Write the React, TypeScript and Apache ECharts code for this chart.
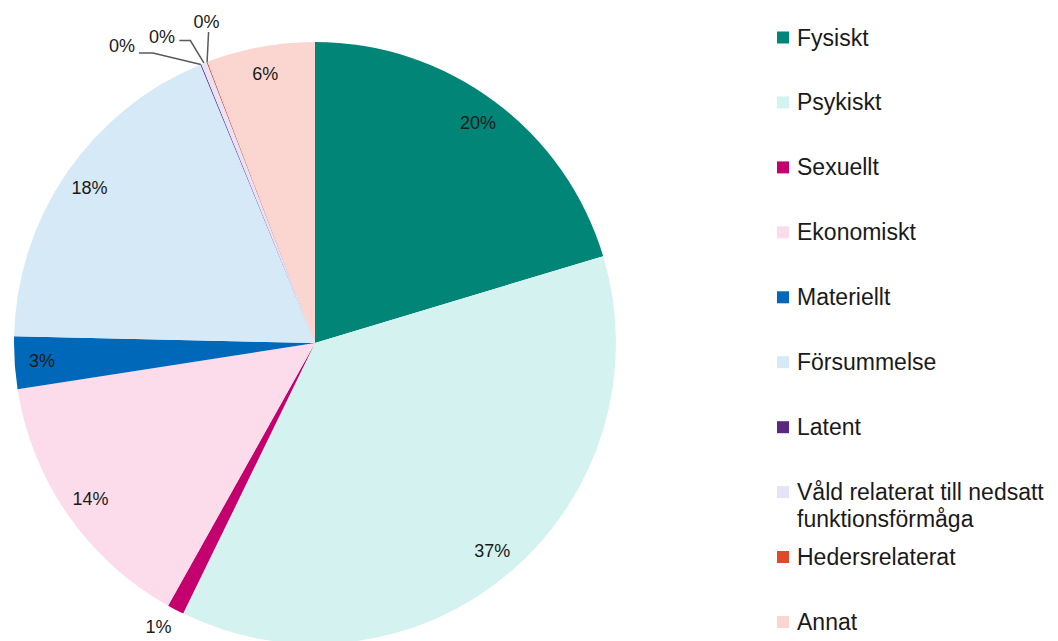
import React, { useEffect, useRef } from "react";
import * as echarts from "echarts";

const categories: string[] = [
  "Fysiskt",
  "Psykiskt",
  "Sexuellt",
  "Ekonomiskt",
  "Materiellt",
  "Försummelse",
  "Latent",
  "Våld relaterat till nedsatt funktionsförmåga",
  "Hedersrelaterat",
  "Annat",
];

const shares: number[] = [20.3, 36.8, 0.9, 14.4, 2.8, 18.4, 0.05, 0.3, 0.05, 5.8];

const colors: string[] = [
  "#008577",
  "#D4F3F0",
  "#C4006E",
  "#FCDCEB",
  "#0068B8",
  "#D5E9F7",
  "#5A2783",
  "#E6E3F7",
  "#E0492A",
  "#FBD6D0",
];

// label placement (offsets from the slice's outer edge point) for the small slices
const outsideLabelOffsets: Record<number, { label: [number, number]; bend: [number, number]; end: [number, number] }> = {
  2: { label: [-17, 17], bend: [0, 0], end: [0, 0] },
  6: { label: [-79, -18], bend: [-48, -11.5], end: [-62, -11.5] },
  7: { label: [-42, -26], bend: [-13.6, -22.6], end: [-24.6, -22.6] },
  8: { label: [-0.5, -40], bend: [1.5, -30], end: [1.5, -30] },
};

const legendCenters: number[] = [37.5, 102.4, 167.4, 232.3, 297.3, 362.2, 427.2, 492.1, 557, 622];

const FONT = "'Liberation Sans', Arial, sans-serif";
const CX = 315;
const CY = 343;
const R = 301;

export default function App() {
  const ref = useRef<HTMLDivElement>(null);
  useEffect(() => {
    if (!ref.current) return;
    const chart = echarts.init(ref.current, undefined, { renderer: "svg" });
    const fmt = (p: any) => `${Math.round(p.value)}%`;
    const isSmall = (v: number) => v < 1.5;

    const mainData = categories.map((name, i) => ({
      name,
      value: shares[i],
      itemStyle: { color: colors[i] },
      label: { show: isSmall(shares[i]) },
      labelLine: { show: isSmall(shares[i]) },
    }));
    const labelData = categories.map((name, i) => ({
      name,
      value: shares[i],
      label: { show: !isSmall(shares[i]) },
    }));

    const legends = categories.map((name, i) => {
      const multi = name.length > 30;
      // a leading empty line keeps the first text line centred on the legend icon
      const display = multi ? " \nVåld relaterat till nedsatt\nfunktionsförmåga" : name;
      return {
        orient: "vertical",
        left: 777,
        top: legendCenters[i] - (multi ? 40.5 : 13.5),
        padding: 0,
        itemWidth: 12,
        itemHeight: 12,
        itemGap: 0,
        icon: "rect",
        selectedMode: false,
        formatter: () => display,
        data: [{ name, itemStyle: { color: colors[i] } }],
        textStyle: {
          fontSize: 23,
          fontFamily: FONT,
          color: "#1a1a1a",
          lineHeight: 27,
          padding: [0, 0, 0, 3],
        },
      };
    });

    chart.setOption({
      animation: false,
      backgroundColor: "#ffffff",
      legend: legends,
      series: [
        {
          type: "pie",
          center: [CX, CY],
          radius: [0, R],
          startAngle: 90,
          clockwise: true,
          avoidLabelOverlap: false,
          silent: true,
          itemStyle: { borderWidth: 0 },
          label: {
            position: "outside",
            formatter: fmt,
            fontSize: 18,
            fontFamily: FONT,
            color: "#1a1a1a",
          },
          labelLine: {
            length: 10,
            length2: 10,
            lineStyle: { color: "#595959", width: 1.5 },
          },
          labelLayout: (params: any) => {
            const off = outsideLabelOffsets[params.dataIndex];
            const pts = params.labelLinePoints;
            if (!off || !pts) return {};
            const [x0, y0] = pts[0];
            return {
              x: x0 + off.label[0],
              y: y0 + off.label[1],
              align: "center",
              verticalAlign: "middle",
              labelLinePoints: [
                [x0, y0],
                [x0 + off.bend[0], y0 + off.bend[1]],
                [x0 + off.end[0], y0 + off.end[1]],
              ],
            };
          },
          data: mainData,
        },
        {
          type: "pie",
          center: [CX, CY],
          radius: [240, R],
          startAngle: 90,
          clockwise: true,
          silent: true,
          avoidLabelOverlap: false,
          itemStyle: { color: "rgba(0,0,0,0)", borderWidth: 0 },
          emphasis: { disabled: true },
          label: {
            position: "inside",
            formatter: fmt,
            fontSize: 18,
            fontFamily: FONT,
            color: "#1a1a1a",
          },
          labelLine: { show: false },
          data: labelData,
        },
      ],
    });
    return () => chart.dispose();
  }, []);
  return (
    <div
      ref={ref}
      style={{ position: "absolute", left: 0, top: 0, width: 1058, height: 641, background: "#fff" }}
    />
  );
}
